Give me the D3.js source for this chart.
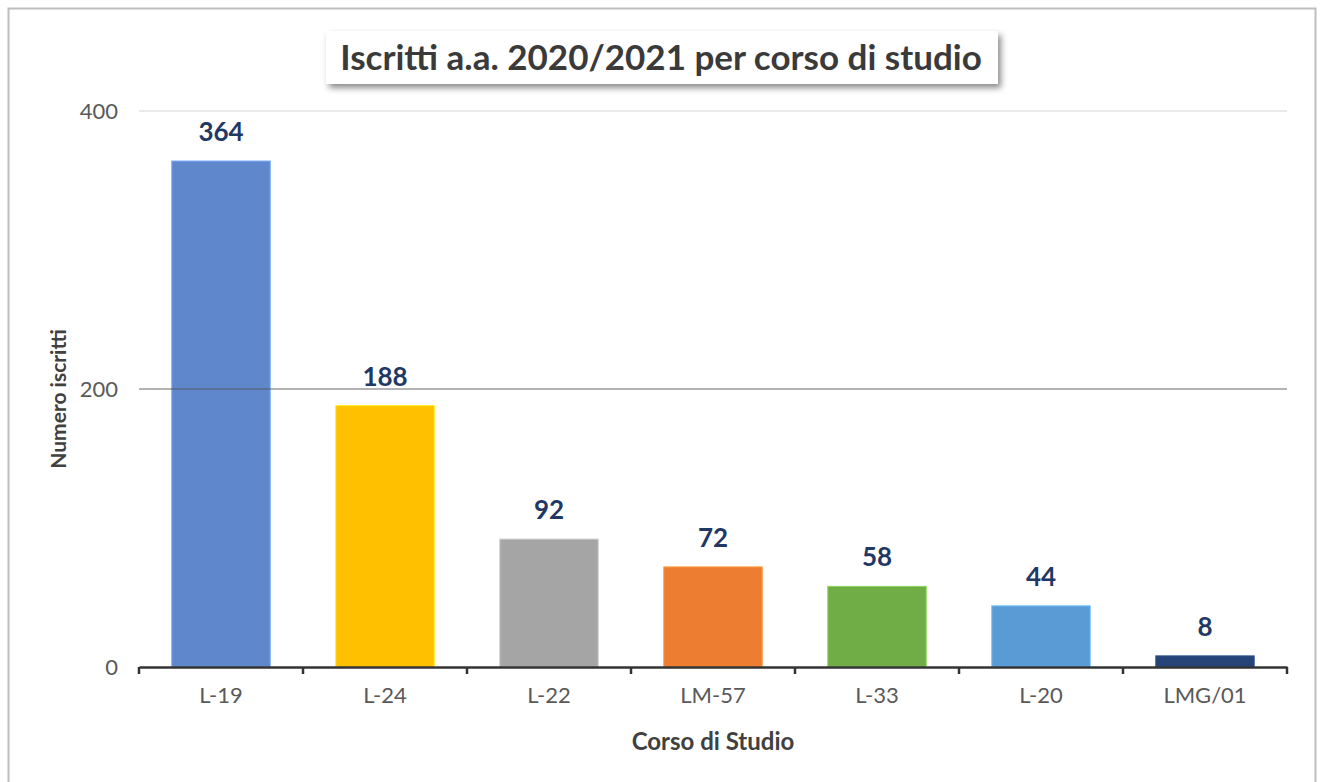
<!DOCTYPE html>
<html><head><meta charset="utf-8">
<script src="https://cdn.jsdelivr.net/npm/d3@7"></script>
<style>body{margin:0;background:#fff;}svg{display:block;}</style>
</head><body>
<svg id="chart" width="1321" height="782"></svg>
<script>
const categories = ["L-19","L-24","L-22","LM-57","L-33","L-20","LMG/01"];
const values = [364,188,92,72,58,44,8];
const colors = ["#5f87cc","#ffc000","#a5a5a5","#ed7d31","#70ad47","#5b9bd5","#264478"];
const yTicks = [0,200,400];
const title = "Iscritti a.a. 2020/2021 per corso di studio";
const xTitle = "Corso di Studio";
const yTitle = "Numero iscritti";

const svg = d3.select("#chart");
const font = "Lato, 'Open Sans', sans-serif";
const defs = svg.append("defs");
const f = defs.append("filter").attr("id","sh").attr("x","-10%").attr("y","-30%").attr("width","130%").attr("height","180%");
f.append("feDropShadow").attr("dx",3).attr("dy",4).attr("stdDeviation",3).attr("flood-color","#000").attr("flood-opacity",0.45);

// outer border
svg.append("rect").attr("x",8.5).attr("y",8.5).attr("width",1307).attr("height",790)
  .attr("fill","#fff").attr("stroke","#bdbdbd").attr("stroke-width",2);

const x0 = 139, x1 = 1287, yBase = 667, yTop = 111;
const x = d3.scaleBand().domain(categories).range([x0,x1]).paddingInner(0.4).paddingOuter(0.2);
const y = d3.scaleLinear().domain([0,400]).range([yBase,yTop]);

// light gridline (400)
svg.append("g").selectAll("line").data(yTicks.filter(t=>t===400)).join("line")
  .attr("x1",x0).attr("x2",x1).attr("y1",d=>y(d)).attr("y2",d=>y(d))
  .attr("stroke","#e3e3e3").attr("stroke-width",1.5);

// bars
svg.append("g").selectAll("rect").data(values).join("rect")
  .attr("x",(d,i)=>x(categories[i])).attr("width",x.bandwidth())
  .attr("y",d=>y(d)).attr("height",d=>yBase-y(d))
  .attr("fill",(d,i)=>colors[i]).attr("stroke",(d,i)=>d3.color(colors[i]).brighter(0.6)).attr("stroke-width",1);

// darker gridline at 200 drawn over bars
svg.append("g").selectAll("line").data(yTicks.filter(t=>t===200)).join("line")
  .attr("x1",x0).attr("x2",x1).attr("y1",d=>y(d)).attr("y2",d=>y(d))
  .attr("stroke","#555").attr("stroke-opacity",0.6).attr("stroke-width",1.5);

// y tick labels
svg.append("g").selectAll("text").data(yTicks).join("text")
  .attr("x",118).attr("y",d=>y(d)).attr("dy","0.35em").attr("text-anchor","end")
  .attr("font-family",font).attr("font-size",22).attr("fill","#595959").text(d=>d);

// x axis
const xAxis = d3.axisBottom(x).tickSize(0).tickPadding(20);
const gx = svg.append("g").attr("transform",`translate(0,${yBase})`).call(xAxis);
gx.select(".domain").attr("stroke","#333").attr("stroke-width",2.5);
gx.selectAll("text").attr("font-family",font).attr("font-size",22).attr("fill","#595959");
// boundary ticks
const bounds = d3.range(categories.length+1).map(i=>x0+i*(x1-x0)/categories.length);
gx.append("g").selectAll("line").data(bounds).join("line")
  .attr("x1",d=>d).attr("x2",d=>d).attr("y1",0).attr("y2",7)
  .attr("stroke","#333").attr("stroke-width",2.5);

// data labels
svg.append("g").selectAll("text").data(values).join("text")
  .attr("x",(d,i)=>x(categories[i])+x.bandwidth()/2).attr("y",d=>y(d)-20)
  .attr("text-anchor","middle").attr("font-family",font).attr("font-weight","bold")
  .attr("font-size",26).attr("fill","#1f3864").text(d=>d);

// axis titles
svg.append("text").attr("x",713).attr("y",750).attr("text-anchor","middle")
  .attr("font-family",font).attr("font-weight","bold").attr("font-size",24).attr("fill","#404040").text(xTitle);
svg.append("text").attr("transform","translate(66,399) rotate(-90)").attr("text-anchor","middle")
  .attr("font-family",font).attr("font-weight","bold").attr("font-size",21).attr("fill","#404040").text(yTitle);

// title box
const tg = svg.append("g");
tg.append("rect").attr("x",326).attr("y",31).attr("width",672).attr("height",53)
  .attr("fill","#fff").attr("filter","url(#sh)");
tg.append("text").attr("x",661).attr("y",58).attr("dy","0.35em").attr("text-anchor","middle")
  .attr("font-family",font).attr("font-weight","bold").attr("font-size",35).attr("fill","#3a3a3a").text(title);
</script>
</body></html>
